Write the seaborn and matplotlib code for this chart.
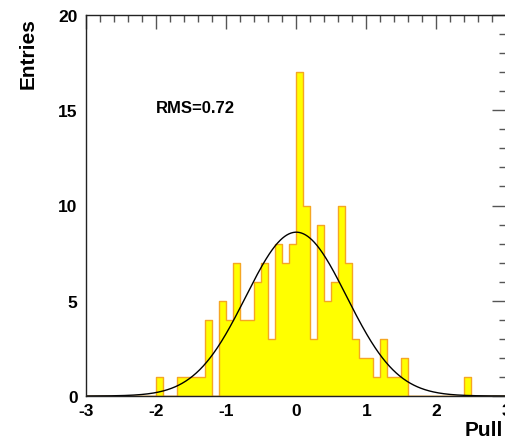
import numpy as np
import pandas as pd
import matplotlib
matplotlib.use("Agg")
import matplotlib.pyplot as plt
from matplotlib.ticker import MultipleLocator
import seaborn as sns

# Pull distribution: 0.1-wide bins from -3 to 3 (left edge -> entries)
bin_lefts = [-2.0, -1.7, -1.6, -1.5, -1.4, -1.3, -1.1, -1.0, -0.9, -0.8,
             -0.7, -0.6, -0.5, -0.4, -0.3, -0.2, -0.1, 0.0, 0.1, 0.2,
             0.3, 0.4, 0.5, 0.6, 0.7, 0.8, 0.9, 1.0, 1.1, 1.2,
             1.3, 1.4, 1.5, 2.4]
entries = [1, 1, 1, 1, 1, 4, 5, 4, 7, 4,
           4, 6, 7, 3, 8, 7, 8, 17, 10, 3,
           9, 5, 6, 10, 7, 3, 2, 2, 1, 3,
           1, 1, 2, 1]

# Gaussian fit parameters
fit_amplitude = 8.6
fit_mean = 0.0
fit_sigma = 0.72
rms_text = "RMS=0.72"

bin_width = 0.1
n_bins = 60
x_range = (-3.0, 3.0)

df = pd.DataFrame({"pull": np.array(bin_lefts) + bin_width / 2,
                   "n": entries})

sns.set_theme(style="white")
plt.rcParams["font.family"] = ["Liberation Sans", "DejaVu Sans"]
plt.rcParams["font.weight"] = "bold"
plt.rcParams["text.color"] = "black"
plt.rcParams["axes.unicode_minus"] = False

fig = plt.figure(figsize=(5.06, 4.39), dpi=100)
ax = fig.add_axes([86 / 506, 42 / 439, 420.5 / 506, 381 / 439])

sns.histplot(data=df, x="pull", weights="n", bins=n_bins, binrange=x_range,
             element="step", fill=True, color="#ffff00", edgecolor="#f5a623",
             alpha=1.0, linewidth=1.0, ax=ax)

xs = np.linspace(-3, 3, 600)
ys = fit_amplitude * np.exp(-0.5 * ((xs - fit_mean) / fit_sigma) ** 2)
sns.lineplot(x=xs, y=ys, color="black", linewidth=1.0, ax=ax)

ax.set_xlim(-3, 3)
ax.set_ylim(0, 20)
ax.set_xlabel("")
ax.set_ylabel("")

ax.xaxis.set_major_locator(MultipleLocator(1))
ax.xaxis.set_minor_locator(MultipleLocator(0.2))
ax.yaxis.set_major_locator(MultipleLocator(5))
ax.yaxis.set_minor_locator(MultipleLocator(1))
ax.tick_params(which="both", direction="in", top=True, right=True,
               color="#555555", width=1.0, labelcolor="black")
ax.tick_params(which="major", length=10, labelsize=12.5, pad=5)
ax.tick_params(which="minor", length=5)
ax.tick_params(axis="y", which="major", pad=6)
for lab in ax.get_xticklabels() + ax.get_yticklabels():
    lab.set_fontweight("bold")

for sp in ax.spines.values():
    sp.set_color("#222222")
    sp.set_linewidth(1.0)

ax.text(-2.0, 14.9, rms_text, fontsize=12, fontweight="bold",
        color="black", ha="left", va="baseline")

fig.text(28 / 506, 1 - 18 / 439, "Entries", rotation=90, fontsize=15,
         fontweight="bold", color="black", ha="center", va="top")
fig.text(465 / 506, 3 / 439, "Pull", fontsize=15, fontweight="bold",
         color="black", ha="left", va="baseline")

fig.savefig("out.png", dpi=100, facecolor="white")
